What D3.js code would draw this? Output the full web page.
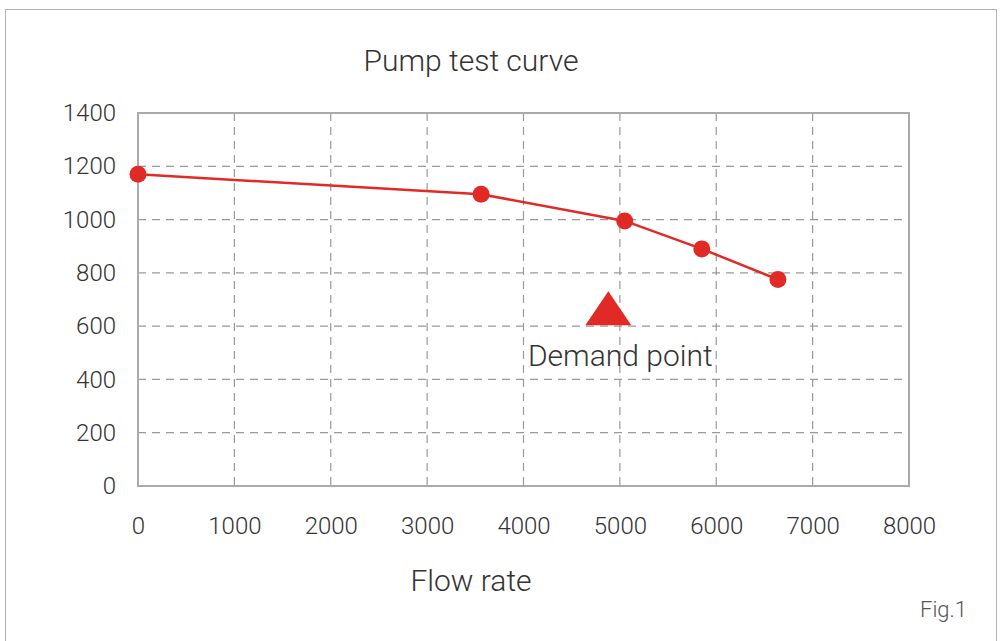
<!DOCTYPE html>
<html>
<head>
<meta charset="utf-8">
<script src="https://cdn.jsdelivr.net/npm/d3@7"></script>
<style>
  body { margin:0; background:#fff; }
  text { font-family: Roboto, "Liberation Sans", sans-serif; font-weight:300; fill:#333; }
</style>
</head>
<body>
<div id="chart"></div>
<script>
// donnees
const debit = [0, 3560, 5050, 5850, 6640];
const hauteur = [1170, 1095, 995, 890, 775];
const pointDemande = [4880, 667];
const ticksX = [0, 1000, 2000, 3000, 4000, 5000, 6000, 7000, 8000];
const ticksY = [0, 200, 400, 600, 800, 1000, 1200, 1400];

const largeur = 1003, hautPage = 641;
const marge = {gauche:138, droite:94, haut:113, bas:155};

const svg = d3.select("#chart").append("svg")
  .attr("width", largeur).attr("height", hautPage);

// cadre exterieur
svg.append("rect").attr("x",5.5).attr("y",9.5).attr("width",991).attr("height",640)
  .attr("fill","none").attr("stroke","#b3b3b3").attr("stroke-width",1);

const x = d3.scaleLinear().domain([0,8000]).range([marge.gauche, largeur-marge.droite]);
const y = d3.scaleLinear().domain([0,1400]).range([hautPage-marge.bas, marge.haut]);

// grille pointillee
svg.append("g").selectAll("line").data(ticksX.slice(1,-1)).join("line")
  .attr("x1",d=>x(d)).attr("x2",d=>x(d)).attr("y1",y(1400)).attr("y2",y(0))
  .attr("stroke","#999").attr("stroke-dasharray","8,6").attr("stroke-width",1.2);
svg.append("g").selectAll("line").data(ticksY.slice(1,-1)).join("line")
  .attr("x1",x(0)).attr("x2",x(8000)).attr("y1",d=>y(d)).attr("y2",d=>y(d))
  .attr("stroke","#999").attr("stroke-dasharray","8,6").attr("stroke-width",1.2);

// bordure zone de trace
svg.append("rect").attr("x",x(0)).attr("y",y(1400))
  .attr("width",x(8000)-x(0)).attr("height",y(0)-y(1400))
  .attr("fill","none").attr("stroke","#aaa").attr("stroke-width",2);

// axes
svg.append("g").attr("transform","translate(0,"+y(0)+")")
  .call(d3.axisBottom(x).tickValues(ticksX).tickSize(0).tickPadding(31).tickFormat(d3.format("d")));
svg.append("g").attr("transform","translate("+x(0)+",0)")
  .call(d3.axisLeft(y).tickValues(ticksY).tickSize(0).tickPadding(22).tickFormat(d3.format("d")));
svg.selectAll(".domain").remove();
svg.selectAll(".tick text").attr("font-size",24).attr("font-family",null).style("fill","#333");

// courbe
const ligne = d3.line().x((d,i)=>x(debit[i])).y(d=>y(d));
svg.append("path").datum(hauteur).attr("d",ligne)
  .attr("fill","none").attr("stroke","#e12a26").attr("stroke-width",2.5);
svg.append("g").selectAll("circle").data(hauteur).join("circle")
  .attr("cx",(d,i)=>x(debit[i])).attr("cy",d=>y(d)).attr("r",8.5).attr("fill","#e12a26");

// point de demande (triangle plus large que haut)
const tx = x(pointDemande[0]), ty = y(pointDemande[1]);
svg.append("path")
  .attr("d","M"+tx+","+(ty-17)+" L"+(tx+23)+","+(ty+17)+" L"+(tx-23)+","+(ty+17)+"Z")
  .attr("fill","#e12a26");
svg.append("text").attr("x",tx+12).attr("y",366)
  .attr("text-anchor","middle").attr("font-size",30).text("Demand point");

// titres
svg.append("text").attr("x",471).attr("y",71).attr("text-anchor","middle")
  .attr("font-size",30).text("Pump test curve");
svg.append("text").attr("x",471).attr("y",591).attr("text-anchor","middle")
  .attr("font-size",30).text("Flow rate");
svg.append("text").attr("x",967).attr("y",617).attr("text-anchor","end")
  .attr("font-size",22).style("fill","#555").text("Fig.1");
</script>
</body>
</html>
